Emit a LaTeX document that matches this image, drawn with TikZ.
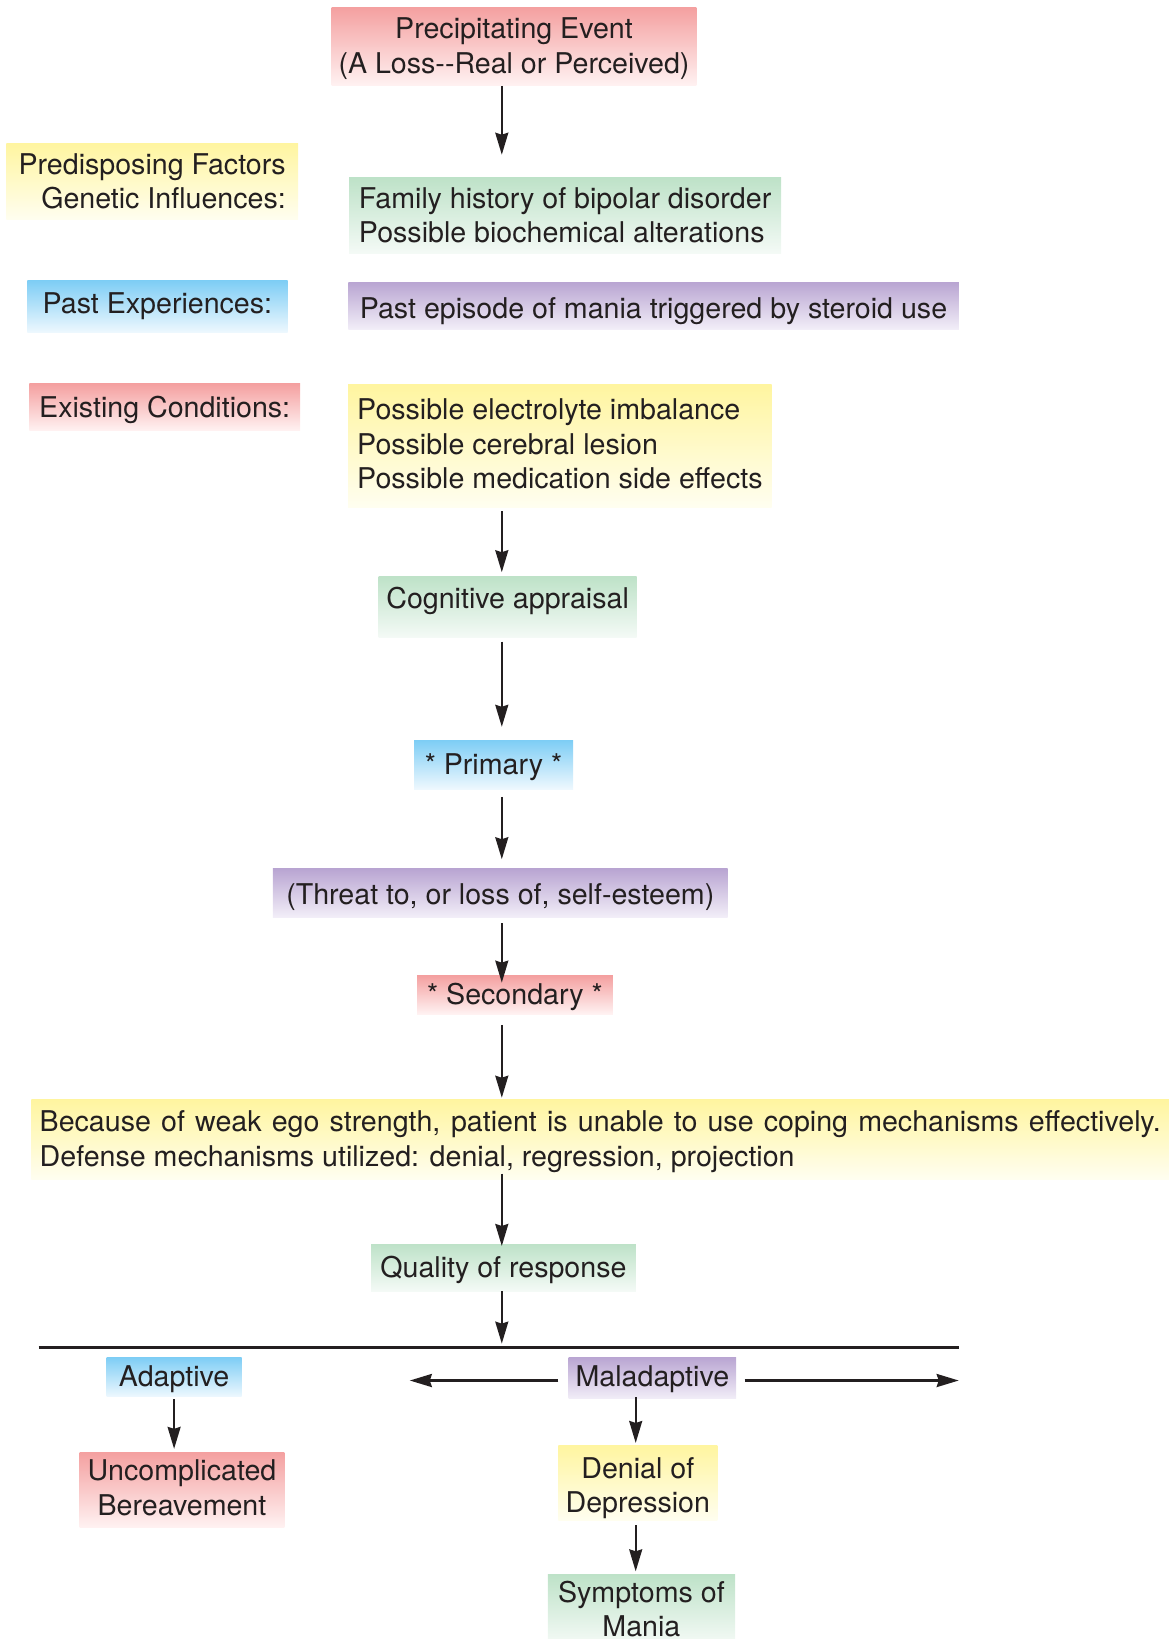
\documentclass[tikz,border=0pt]{standalone}
\usepackage{fontspec}
\setmainfont{TeX Gyre Heros}
\usetikzlibrary{arrows.meta}
\definecolor{ink}{RGB}{35,31,32}
\definecolor{rosetop}{RGB}{244,160,160}
\definecolor{rosebot}{RGB}{255,242,242}
\definecolor{sunnytop}{RGB}{255,245,160}
\definecolor{sunnybot}{RGB}{255,254,240}
\definecolor{minttop}{RGB}{190,226,200}
\definecolor{mintbot}{RGB}{244,250,246}
\definecolor{skytop}{RGB}{125,205,245}
\definecolor{skybot}{RGB}{238,248,254}
\definecolor{liltop}{RGB}{185,165,210}
\definecolor{lilbot}{RGB}{242,238,248}
\newcommand{\topstrut}[1]{\rule{0pt}{#1}}
\newcommand{\botstrut}[1]{\rule[-#1]{0pt}{#1}}

\begin{document}
\begin{tikzpicture}[x=1pt,y=-1pt,>={Stealth[length=22pt,width=13pt,inset=2pt]},
  font=\fontsize{28.6pt}{34.5pt}\selectfont,
  box/.style={inner xsep=7pt,inner ysep=2pt,text=ink,align=center},
  oneline/.style={text height=26pt,text depth=6pt},
  rosebox/.style={box,top color=rosetop,bottom color=rosebot},
  sunnybox/.style={box,top color=sunnytop,bottom color=sunnybot},
  mintbox/.style={box,top color=minttop,bottom color=mintbot},
  skybox/.style={box,top color=skytop,bottom color=skybot},
  lilbox/.style={box,top color=liltop,bottom color=lilbot},
  arr/.style={->,line width=2pt,ink}]
\useasboundingbox (0,0) rectangle (1172,1639);
\clip (0,0) rectangle (1172,1639);

\node[rosebox,minimum width=363pt,minimum height=78.4pt] (precip) at (514,46.5)
  {\topstrut{25pt}Precipitating Event\\(A Loss{-}{-}Real or Perceived)};
\node[sunnybox,inner xsep=2pt,align=right,minimum width=291.7pt,minimum height=76.4pt] (predis) at (152.2,181.4)
  {Predisposing Factors\\Genetic Influences:};
\node[mintbox,inner xsep=2pt,align=left,minimum width=431.8pt,minimum height=75.3pt] (family) at (565.1,215.4)
  {Family history of bipolar disorder\\Possible biochemical alterations};
\node[skybox,oneline,text height=20pt,minimum width=260.3pt,minimum height=52.3pt] (pastexp) at (157.4,306.4) {Past Experiences:};
\node[lilbox,oneline,text height=32pt,minimum width=610.5pt,minimum height=47pt] (pastep) at (653.5,305.8)
  {Past episode of mania triggered by steroid use};
\node[rosebox,oneline,minimum width=270.7pt,minimum height=47pt] (exist) at (164.7,407.2) {Existing Conditions:};
\node[sunnybox,inner xsep=2pt,align=left,minimum width=423.4pt,minimum height=122.3pt] (possible) at (559.9,445.9)
  {Possible electrolyte imbalance\\Possible cerebral lesion\\Possible medication side effects\botstrut{4pt}};
\node[mintbox,minimum width=258.2pt,minimum height=59.7pt,text height=30pt,text depth=27pt] (cog) at (507.6,606.9) {Cognitive appraisal};
\node[skybox,oneline,minimum width=159pt,minimum height=49pt] (primary) at (493.5,764.5) {* Primary *};
\node[lilbox,oneline,text height=30pt,minimum width=454.8pt,minimum height=48.2pt] (threat) at (500.3,892.9)
  {(Threat to, or loss of, self-esteem)};
\node[rosebox,oneline,minimum width=195.7pt,minimum height=38.6pt] (secondary) at (514.9,994.7) {* Secondary *};
\node[sunnybox,inner xsep=8.25pt,text width=1121pt,align=justify,minimum height=79.4pt] (because) at (600.2,1139.6)
  {\parfillskip=0pt \topstrut{25pt}Because of weak ego strength, patient is unable to use coping mechanisms effectively.\par
   \parfillskip=0pt plus 1fil Defense mechanisms utilized: denial, regression, projection};
\node[mintbox,oneline,minimum width=264.7pt,minimum height=47.1pt] (quality) at (503.4,1267.7) {Quality of response};
\node[skybox,oneline,minimum width=134.9pt,minimum height=39.8pt] (adaptive) at (174.1,1376.9) {Adaptive};
\node[rosebox,minimum width=204.9pt,minimum height=75.5pt] (uncompl) at (182,1489.8)
  {Uncomplicated\\Bereavement\botstrut{4pt}};
\node[lilbox,oneline,text height=22pt,minimum width=167.2pt,minimum height=41.9pt] (maladaptive) at (652.4,1378) {Maladaptive};
\node[sunnybox,minimum width=158.9pt,minimum height=66pt] (denial) at (637.8,1483) {\topstrut{31pt}Denial of\\Depression};
\node[mintbox,minimum width=187.2pt,minimum height=69pt] (symptoms) at (641.4,1609) {Symptoms of\\Mania};

\coordinate (ax) at (501.8,0);
\coordinate (bx) at (635.7,0);
\coordinate (e1) at (501.8,154.7);
\coordinate (hlL) at (38.7,1347.6);
\coordinate (hlR) at (958.7,1347.6);
\coordinate (e2) at (409.8,1380.5);

\draw[arr] (precip.south -| ax) -- (e1);
\draw[arr,shorten <=4pt,shorten >=4pt] (possible.south -| ax) -- (cog.north -| ax);
\draw[arr,shorten <=4pt,shorten >=13pt] (cog.south -| ax) -- (primary.north -| ax);
\draw[arr,shorten <=7.6pt,shorten >=9.4pt] (primary.south -| ax) -- (threat.north -| ax);
\draw[arr,shorten <=6pt,shorten >=-7.4pt] (threat.south -| ax) -- (secondary.north -| ax);
\draw[arr,shorten <=10.6pt,shorten >=2pt] (secondary.south -| ax) -- (because.north -| ax);
\draw[arr,shorten <=-6pt,shorten >=-2pt] (because.south -| ax) -- (quality.north -| ax);
\draw[arr,shorten >=4pt] (quality.south -| ax) -- (hlL -| ax);

\draw[line width=2.5pt,ink] (hlL) -- (hlR);

\draw[arr,shorten <=2pt,shorten >=3pt] (adaptive.south) -- (adaptive.south |- uncompl.north);
\draw[arr,line width=2.5pt,shorten <=10pt] (maladaptive.west |- e2) -- (e2);
\draw[arr,line width=2.5pt,shorten <=8.4pt] (maladaptive.east |- e2) -- (e2 -| hlR);
\draw[arr,shorten <=-2pt,shorten >=2pt] (maladaptive.south -| bx) -- (denial.north -| bx);
\draw[arr,shorten <=4pt,shorten >=3pt] (denial.south -| bx) -- (symptoms.north -| bx);
\end{tikzpicture}
\end{document}
